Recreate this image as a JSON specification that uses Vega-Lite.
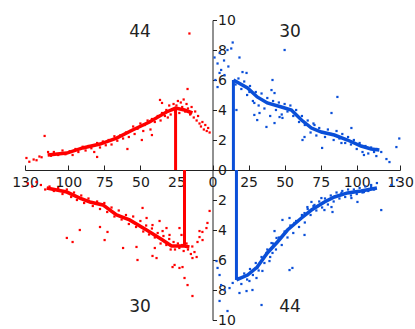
{
  "$schema": "https://vega.github.io/schema/vega-lite/v6.json",
  "width": 375,
  "height": 300,
  "autosize": {"type": "none"},
  "padding": {"left": 25, "top": 20, "right": 15, "bottom": 9},
  "background": "white",
  "config": {
    "view": {"stroke": null},
    "axis": {"grid": false, "title": null, "labelFont": "DejaVu Sans", "labelFontSize": 14, "labelColor": "#1a1a1a", "domainColor": "#222", "tickColor": "#222"}
  },
  "datasets": {
    "pts": [
      {"s":"L","x":-129,"y":0.8},{"s":"L","x":-127,"y":0.55},{"s":"L","x":-124,"y":0.7},{"s":"L","x":-122,"y":0.65},{"s":"L","x":-120,"y":0.9},{"s":"L","x":-118.5,"y":0.85},{"s":"L","x":-116.4,"y":2.27},{"s":"L","x":-114,"y":1.2},{"s":"L","x":-112,"y":0.95},{"s":"L","x":-110,"y":1.2},{"s":"L","x":-107,"y":1.0},{"s":"L","x":-104,"y":1.3},{"s":"L","x":-102,"y":1.05},{"s":"L","x":-99,"y":1.25},{"s":"L","x":-97,"y":1.0},{"s":"L","x":-95,"y":1.4},{"s":"L","x":-93,"y":1.2},{"s":"L","x":-90,"y":1.55},{"s":"L","x":-88,"y":1.3},{"s":"L","x":-86,"y":1.6},{"s":"L","x":-84,"y":1.45},{"s":"L","x":-82,"y":1.2},{"s":"L","x":-80,"y":0.87},{"s":"L","x":-80,"y":1.8},{"s":"L","x":-78,"y":1.5},{"s":"L","x":-76,"y":1.9},{"s":"L","x":-74,"y":1.65},{"s":"L","x":-72,"y":2.0},{"s":"L","x":-70,"y":1.7},{"s":"L","x":-68,"y":2.25},{"s":"L","x":-66,"y":1.95},{"s":"L","x":-64,"y":2.3},{"s":"L","x":-62,"y":2.1},{"s":"L","x":-60,"y":2.5},{"s":"L","x":-59,"y":1.4},{"s":"L","x":-58,"y":2.2},{"s":"L","x":-57,"y":2.6},{"s":"L","x":-55,"y":2.9},{"s":"L","x":-54,"y":2.4},{"s":"L","x":-52,"y":2.75},{"s":"L","x":-50,"y":3.1},{"s":"L","x":-49,"y":2.0},{"s":"L","x":-48,"y":2.6},{"s":"L","x":-47,"y":3.0},{"s":"L","x":-45,"y":3.3},{"s":"L","x":-43,"y":2.7},{"s":"L","x":-42,"y":2.33},{"s":"L","x":-42,"y":3.4},{"s":"L","x":-40,"y":3.2},{"s":"L","x":-38,"y":3.6},{"s":"L","x":-36.4,"y":4.67},{"s":"L","x":-36,"y":3.3},{"s":"L","x":-35,"y":3.8},{"s":"L","x":-35,"y":4.47},{"s":"L","x":-33,"y":3.6},{"s":"L","x":-32,"y":4.0},{"s":"L","x":-31,"y":3.5},{"s":"L","x":-30,"y":4.3},{"s":"L","x":-29,"y":3.7},{"s":"L","x":-28,"y":4.0},{"s":"L","x":-27,"y":4.4},{"s":"L","x":-26,"y":3.9},{"s":"L","x":-25,"y":4.3},{"s":"L","x":-24,"y":4.6},{"s":"L","x":-23,"y":3.8},{"s":"L","x":-22,"y":4.5},{"s":"L","x":-21,"y":4.2},{"s":"L","x":-20,"y":4.7},{"s":"L","x":-19,"y":3.9},{"s":"L","x":-18,"y":4.4},{"s":"L","x":-17.3,"y":5.4},{"s":"L","x":-17,"y":4.1},{"s":"L","x":-16,"y":9.1},{"s":"L","x":-15.5,"y":3.7},{"s":"L","x":-14.5,"y":4.2},{"s":"L","x":-13,"y":3.5},{"s":"L","x":-12,"y":3.9},{"s":"L","x":-11,"y":3.3},{"s":"L","x":-10,"y":3.6},{"s":"L","x":-9,"y":3.1},{"s":"L","x":-8,"y":2.9},{"s":"L","x":-7,"y":3.2},{"s":"L","x":-6,"y":2.7},{"s":"L","x":-5,"y":3.0},{"s":"L","x":-4,"y":2.6},{"s":"L","x":-3,"y":2.8},{"s":"L","x":-2,"y":2.5},
      {"s":"L","x":-128,"y":-0.9},{"s":"L","x":-125,"y":-1.1},{"s":"L","x":-122,"y":-0.8},{"s":"L","x":-119,"y":-1.0},{"s":"L","x":-116,"y":-1.3},{"s":"L","x":-113,"y":-1.1},{"s":"L","x":-110,"y":-1.4},{"s":"L","x":-107,"y":-1.2},{"s":"L","x":-104,"y":-1.6},{"s":"L","x":-101,"y":-1.3},{"s":"L","x":-101,"y":-4.53},{"s":"L","x":-98,"y":-1.8},{"s":"L","x":-97,"y":-4.8},{"s":"L","x":-96,"y":-1.5},{"s":"L","x":-94,"y":-2.0},{"s":"L","x":-92,"y":-4.0},{"s":"L","x":-91,"y":-1.7},{"s":"L","x":-89,"y":-2.2},{"s":"L","x":-86,"y":-1.9},{"s":"L","x":-83,"y":-2.4},{"s":"L","x":-80,"y":-2.1},{"s":"L","x":-78,"y":-2.6},{"s":"L","x":-78,"y":-3.8},{"s":"L","x":-75,"y":-2.2},{"s":"L","x":-74.8,"y":-4.67},{"s":"L","x":-73,"y":-2.8},{"s":"L","x":-72.8,"y":-4.13},{"s":"L","x":-70,"y":-2.5},{"s":"L","x":-68,"y":-3.1},{"s":"L","x":-65,"y":-2.7},{"s":"L","x":-63,"y":-3.3},{"s":"L","x":-62,"y":-5.2},{"s":"L","x":-60,"y":-3.0},{"s":"L","x":-58,"y":-3.6},{"s":"L","x":-55,"y":-3.1},{"s":"L","x":-53,"y":-3.8},{"s":"L","x":-52.7,"y":-5.13},{"s":"L","x":-52,"y":-6.0},{"s":"L","x":-50,"y":-3.4},{"s":"L","x":-48.5,"y":-2.53},{"s":"L","x":-48,"y":-4.1},{"s":"L","x":-46,"y":-3.7},{"s":"L","x":-45.7,"y":-3.2},{"s":"L","x":-44,"y":-4.3},{"s":"L","x":-42,"y":-3.9},{"s":"L","x":-41.6,"y":-5.73},{"s":"L","x":-41.6,"y":-3.67},{"s":"L","x":-40,"y":-4.5},{"s":"L","x":-40,"y":-5.2},{"s":"L","x":-38.8,"y":-5.87},{"s":"L","x":-38,"y":-4.2},{"s":"L","x":-36.7,"y":-3.4},{"s":"L","x":-36,"y":-4.9},{"s":"L","x":-34.6,"y":-4.07},{"s":"L","x":-34,"y":-4.4},{"s":"L","x":-32,"y":-5.0},{"s":"L","x":-31.9,"y":-3.87},{"s":"L","x":-30,"y":-4.6},{"s":"L","x":-29.8,"y":-4.33},{"s":"L","x":-29,"y":-5.3},{"s":"L","x":-27.7,"y":-6.47},{"s":"L","x":-27,"y":-4.8},{"s":"L","x":-26.3,"y":-6.33},{"s":"L","x":-26,"y":-5.3},{"s":"L","x":-24,"y":-4.9},{"s":"L","x":-23,"y":-5.2},{"s":"L","x":-22.9,"y":-3.87},{"s":"L","x":-22.9,"y":-6.53},{"s":"L","x":-21.5,"y":-4.33},{"s":"L","x":-21,"y":-5.0},{"s":"L","x":-20.8,"y":-6.47},{"s":"L","x":-20,"y":-5.4},{"s":"L","x":-19.4,"y":-7.2},{"s":"L","x":-18,"y":-4.9},{"s":"L","x":-17.3,"y":-7.67},{"s":"L","x":-17,"y":-5.3},{"s":"L","x":-15,"y":-5.6},{"s":"L","x":-14,"y":-5.1},{"s":"L","x":-13.9,"y":-8.4},{"s":"L","x":-13.9,"y":-5.87},{"s":"L","x":-12.5,"y":-5.47},{"s":"L","x":-11,"y":-5.8},{"s":"L","x":-10.4,"y":-4.8},{"s":"L","x":-9,"y":-4.47},{"s":"L","x":-9,"y":-4.07},{"s":"L","x":-7,"y":-4.13},{"s":"L","x":-6.9,"y":-4.67},{"s":"L","x":-4.2,"y":-3.87},{"s":"L","x":-3.5,"y":-3.53},{"s":"L","x":-2,"y":-2.73},
      {"s":"R","x":1.4,"y":7.5},{"s":"R","x":2,"y":6.0},{"s":"R","x":3.5,"y":7.1},{"s":"R","x":3.5,"y":5.53},{"s":"R","x":4.9,"y":6.47},{"s":"R","x":5,"y":7.8},{"s":"R","x":6,"y":6.67},{"s":"R","x":8,"y":7.3},{"s":"R","x":8.3,"y":6.33},{"s":"R","x":10.4,"y":8.0},{"s":"R","x":11,"y":6.9},{"s":"R","x":13,"y":8.1},{"s":"R","x":14,"y":8.5},{"s":"R","x":16,"y":5.7},{"s":"R","x":16.6,"y":4.0},{"s":"R","x":18,"y":6.1},{"s":"R","x":18.7,"y":7.5},{"s":"R","x":20,"y":5.4},{"s":"R","x":20.8,"y":6.53},{"s":"R","x":22,"y":5.9},{"s":"R","x":23.6,"y":6.47},{"s":"R","x":24,"y":5.0},{"s":"R","x":25.6,"y":5.2},{"s":"R","x":26,"y":5.6},{"s":"R","x":28,"y":4.6},{"s":"R","x":29,"y":3.67},{"s":"R","x":29,"y":4.47},{"s":"R","x":30,"y":5.2},{"s":"R","x":31,"y":3.33},{"s":"R","x":32,"y":4.3},{"s":"R","x":32.6,"y":3.8},{"s":"R","x":34,"y":5.1},{"s":"R","x":36,"y":4.1},{"s":"R","x":37.4,"y":2.87},{"s":"R","x":38,"y":4.8},{"s":"R","x":40,"y":3.6},{"s":"R","x":40.9,"y":5.33},{"s":"R","x":41.6,"y":6.0},{"s":"R","x":42,"y":4.6},{"s":"R","x":43,"y":3.13},{"s":"R","x":43,"y":5.13},{"s":"R","x":44,"y":4.0},{"s":"R","x":46,"y":4.5},{"s":"R","x":46.5,"y":3.53},{"s":"R","x":48,"y":3.7},{"s":"R","x":48.5,"y":3.47},{"s":"R","x":50,"y":8.0},{"s":"R","x":50,"y":4.4},{"s":"R","x":52,"y":3.9},{"s":"R","x":54,"y":4.3},{"s":"R","x":56,"y":3.6},{"s":"R","x":58,"y":4.0},{"s":"R","x":60,"y":3.2},{"s":"R","x":62,"y":3.6},{"s":"R","x":62.4,"y":2.0},{"s":"R","x":63.8,"y":2.2},{"s":"R","x":64,"y":3.0},{"s":"R","x":66,"y":3.3},{"s":"R","x":68,"y":2.5},{"s":"R","x":70,"y":3.1},{"s":"R","x":70.7,"y":3.0},{"s":"R","x":72,"y":2.3},{"s":"R","x":74,"y":2.8},{"s":"R","x":76,"y":1.47},{"s":"R","x":76,"y":2.5},{"s":"R","x":78,"y":2.2},{"s":"R","x":80,"y":2.7},{"s":"R","x":82,"y":2.4},{"s":"R","x":82.5,"y":3.8},{"s":"R","x":84,"y":2.0},{"s":"R","x":86,"y":2.6},{"s":"R","x":86.6,"y":4.87},{"s":"R","x":88,"y":2.1},{"s":"R","x":89.4,"y":1.8},{"s":"R","x":90,"y":2.4},{"s":"R","x":92,"y":1.8},{"s":"R","x":94,"y":2.2},{"s":"R","x":96,"y":1.7},{"s":"R","x":96.3,"y":2.8},{"s":"R","x":98,"y":2.0},{"s":"R","x":100,"y":1.4},{"s":"R","x":102,"y":1.8},{"s":"R","x":104,"y":1.2},{"s":"R","x":105,"y":1.0},{"s":"R","x":106,"y":1.6},{"s":"R","x":108,"y":1.1},{"s":"R","x":110,"y":1.5},{"s":"R","x":112,"y":1.2},{"s":"R","x":113.6,"y":0.93},{"s":"R","x":114,"y":1.4},{"s":"R","x":117,"y":1.2},{"s":"R","x":120.6,"y":0.73},{"s":"R","x":122.7,"y":0.53},{"s":"R","x":127.5,"y":1.53},{"s":"R","x":129.5,"y":2.1},
      {"s":"R","x":2.8,"y":-6.07},{"s":"R","x":3.5,"y":-6.53},{"s":"R","x":4.9,"y":-7.0},{"s":"R","x":4.9,"y":-8.73},{"s":"R","x":6,"y":-7.67},{"s":"R","x":8.3,"y":-8.0},{"s":"R","x":10.4,"y":-9.4},{"s":"R","x":11.8,"y":-7.87},{"s":"R","x":14,"y":-7.53},{"s":"R","x":18,"y":-7.2},{"s":"R","x":18.7,"y":-8.2},{"s":"R","x":20,"y":-7.6},{"s":"R","x":22,"y":-6.9},{"s":"R","x":23.6,"y":-8.07},{"s":"R","x":24,"y":-7.3},{"s":"R","x":25.6,"y":-7.4},{"s":"R","x":26,"y":-6.6},{"s":"R","x":27.7,"y":-8.0},{"s":"R","x":28,"y":-7.0},{"s":"R","x":30,"y":-6.2},{"s":"R","x":30.5,"y":-7.2},{"s":"R","x":31,"y":-6.53},{"s":"R","x":32,"y":-6.7},{"s":"R","x":34,"y":-9.0},{"s":"R","x":34,"y":-5.8},{"s":"R","x":34.6,"y":-6.73},{"s":"R","x":36,"y":-6.2},{"s":"R","x":37.4,"y":-5.53},{"s":"R","x":38,"y":-5.3},{"s":"R","x":39.5,"y":-6.07},{"s":"R","x":40,"y":-5.8},{"s":"R","x":41.6,"y":-5.53},{"s":"R","x":40.9,"y":-4.87},{"s":"R","x":42,"y":-4.9},{"s":"R","x":43,"y":-4.07},{"s":"R","x":44,"y":-5.3},{"s":"R","x":44.4,"y":-4.53},{"s":"R","x":46,"y":-4.5},{"s":"R","x":48,"y":-5.0},{"s":"R","x":48.5,"y":-3.33},{"s":"R","x":50,"y":-4.1},{"s":"R","x":52,"y":-4.5},{"s":"R","x":53.4,"y":-3.2},{"s":"R","x":53.4,"y":-6.67},{"s":"R","x":54,"y":-3.7},{"s":"R","x":55.4,"y":-6.53},{"s":"R","x":56,"y":-4.2},{"s":"R","x":56.8,"y":-3.53},{"s":"R","x":58,"y":-3.4},{"s":"R","x":60,"y":-3.8},{"s":"R","x":62,"y":-3.0},{"s":"R","x":63.8,"y":-2.87},{"s":"R","x":63.8,"y":-4.33},{"s":"R","x":64,"y":-3.5},{"s":"R","x":65.8,"y":-2.47},{"s":"R","x":66,"y":-2.6},{"s":"R","x":68,"y":-3.0},{"s":"R","x":68.6,"y":-2.13},{"s":"R","x":70,"y":-2.4},{"s":"R","x":70.7,"y":-2.33},{"s":"R","x":72,"y":-2.7},{"s":"R","x":74,"y":-2.1},{"s":"R","x":75.5,"y":-1.87},{"s":"R","x":76,"y":-2.5},{"s":"R","x":77.6,"y":-2.67},{"s":"R","x":78,"y":-1.9},{"s":"R","x":80,"y":-2.3},{"s":"R","x":82,"y":-1.7},{"s":"R","x":82.5,"y":-2.47},{"s":"R","x":83.2,"y":-2.8},{"s":"R","x":84,"y":-2.1},{"s":"R","x":86,"y":-1.5},{"s":"R","x":88,"y":-1.9},{"s":"R","x":89.4,"y":-1.53},{"s":"R","x":90,"y":-1.4},{"s":"R","x":92,"y":-1.8},{"s":"R","x":94,"y":-1.3},{"s":"R","x":96,"y":-1.7},{"s":"R","x":96.3,"y":-1.87},{"s":"R","x":98,"y":-1.3},{"s":"R","x":100,"y":-1.6},{"s":"R","x":100.5,"y":-2.13},{"s":"R","x":102,"y":-1.2},{"s":"R","x":104,"y":-1.5},{"s":"R","x":105,"y":-1.47},{"s":"R","x":106,"y":-1.1},{"s":"R","x":108,"y":-1.4},{"s":"R","x":110,"y":-1.0},{"s":"R","x":110,"y":-1.13},{"s":"R","x":112,"y":-1.3},{"s":"R","x":114,"y":-0.87},{"s":"R","x":117,"y":-2.67},{"s":"R","x":124,"y":-1.0},{"s":"R","x":128,"y":-0.67}
    ],
    "lines": [
      {"s":"L","q":"ul","x":-114.3,"y":1.0},{"s":"L","q":"ul","x":-101,"y":1.13},{"s":"L","q":"ul","x":-90,"y":1.47},{"s":"L","q":"ul","x":-78,"y":1.73},{"s":"L","q":"ul","x":-66.5,"y":2.13},{"s":"L","q":"ul","x":-55.4,"y":2.67},{"s":"L","q":"ul","x":-43.7,"y":3.2},{"s":"L","q":"ul","x":-31.9,"y":3.87},{"s":"L","q":"ul","x":-25.6,"y":4.13},{"s":"L","q":"ul","x":-19.4,"y":4.0},{"s":"L","q":"ul","x":-13.9,"y":3.8},
      {"s":"L","q":"ll","x":-115,"y":-1.2},{"s":"L","q":"ll","x":-101,"y":-1.47},{"s":"L","q":"ll","x":-92,"y":-1.87},{"s":"L","q":"ll","x":-85,"y":-2.13},{"s":"L","q":"ll","x":-76,"y":-2.33},{"s":"L","q":"ll","x":-66.5,"y":-3.0},{"s":"L","q":"ll","x":-57.5,"y":-3.33},{"s":"L","q":"ll","x":-45.7,"y":-4.0},{"s":"L","q":"ll","x":-34.6,"y":-4.67},{"s":"L","q":"ll","x":-28.4,"y":-5.07},{"s":"L","q":"ll","x":-19.4,"y":-5.07},{"s":"L","q":"ll","x":-16,"y":-5.13},
      {"s":"R","q":"ur","x":14.5,"y":6.0},{"s":"R","q":"ur","x":24.3,"y":5.47},{"s":"R","q":"ur","x":31,"y":4.87},{"s":"R","q":"ur","x":38,"y":4.47},{"s":"R","q":"ur","x":47.8,"y":4.2},{"s":"R","q":"ur","x":54.7,"y":4.0},{"s":"R","q":"ur","x":61.7,"y":3.33},{"s":"R","q":"ur","x":68.6,"y":2.8},{"s":"R","q":"ur","x":75.5,"y":2.53},{"s":"R","q":"ur","x":84.5,"y":2.33},{"s":"R","q":"ur","x":93.6,"y":2.0},{"s":"R","q":"ur","x":103,"y":1.6},{"s":"R","q":"ur","x":110,"y":1.4},{"s":"R","q":"ur","x":115.7,"y":1.33},
      {"s":"R","q":"lr","x":16.6,"y":-7.33},{"s":"R","q":"lr","x":24.3,"y":-7.0},{"s":"R","q":"lr","x":31,"y":-6.47},{"s":"R","q":"lr","x":38,"y":-5.53},{"s":"R","q":"lr","x":45,"y":-4.8},{"s":"R","q":"lr","x":52,"y":-4.0},{"s":"R","q":"lr","x":61.7,"y":-3.2},{"s":"R","q":"lr","x":68.6,"y":-2.67},{"s":"R","q":"lr","x":77.6,"y":-2.13},{"s":"R","q":"lr","x":84.5,"y":-1.8},{"s":"R","q":"lr","x":93.6,"y":-1.53},{"s":"R","q":"lr","x":103,"y":-1.4},{"s":"R","q":"lr","x":114,"y":-1.2}
    ],
    "vlines": [
      {"s":"L","x":-25.6,"y":0,"y2":4.13},
      {"s":"L","x":-19.4,"y":0,"y2":-5.07},
      {"s":"R","x":14.5,"y":0,"y2":6.0},
      {"s":"R","x":16.6,"y":0,"y2":-7.33}
    ],
    "labels": [
      {"x":-50.3,"y":9.2,"t":"44"},
      {"x":53.7,"y":9.2,"t":"30"},
      {"x":-50.3,"y":-9.13,"t":"30"},
      {"x":53.7,"y":-9.13,"t":"44"}
    ]
  },
  "layer": [
    {
      "data": {"name": "pts"},
      "mark": {"type": "point", "shape": "square", "filled": true, "size": 5, "opacity": 1},
      "encoding": {
        "x": {"field": "x", "type": "quantitative", "scale": {"domain": [-130, 130], "nice": false, "zero": false},
          "axis": {"orient": "bottom", "offset": -150, "values": [-130, -100, -75, -50, -25, 0, 25, 50, 75, 100, 130], "tickCount": 40, "labelExpr": "'' + abs(datum.value)", "tickSize": -5, "labelPadding": 10, "labelOverlap": false, "labelFlush": false, "labelBound": false}},
        "y": {"field": "y", "type": "quantitative", "scale": {"domain": [-10, 10], "nice": false, "zero": false},
          "axis": {"orient": "right", "offset": -187.5, "values": [-10, -8, -6, -4, -2, 0, 2, 4, 6, 8, 10], "tickCount": 40, "labelExpr": "'' + abs(datum.value)", "tickSize": 4, "labelPadding": 1, "labelOverlap": false, "labelFlush": false, "labelBound": false}},
        "color": {"field": "s", "type": "nominal", "scale": {"domain": ["L", "R"], "range": ["#ff0000", "#0a4fd8"]}, "legend": null}
      }
    },
    {
      "data": {"name": "lines"},
      "mark": {"type": "line", "strokeWidth": 3.5},
      "encoding": {
        "x": {"field": "x", "type": "quantitative"},
        "y": {"field": "y", "type": "quantitative"},
        "detail": {"field": "q"},
        "color": {"field": "s", "type": "nominal"}
      }
    },
    {
      "data": {"name": "vlines"},
      "mark": {"type": "rule", "strokeWidth": 3},
      "encoding": {
        "x": {"field": "x", "type": "quantitative"},
        "y": {"field": "y", "type": "quantitative"},
        "y2": {"field": "y2"},
        "color": {"field": "s", "type": "nominal"}
      }
    },
    {
      "data": {"name": "labels"},
      "mark": {"type": "text", "font": "DejaVu Sans", "fontSize": 17, "color": "#222"},
      "encoding": {
        "x": {"field": "x", "type": "quantitative"},
        "y": {"field": "y", "type": "quantitative"},
        "text": {"field": "t"}
      }
    }
  ]
}
